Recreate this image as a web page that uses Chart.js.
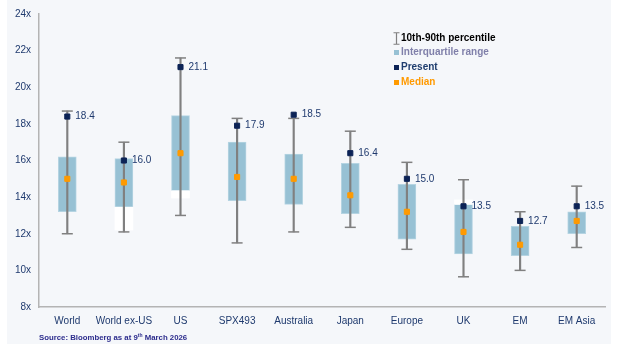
<!DOCTYPE html>
<html>
<head>
<meta charset="utf-8">
<title>Forward P/E ranges</title>
<script src="https://cdn.jsdelivr.net/npm/chart.js@4.4.0/dist/chart.umd.min.js"></script>
<style>
    html, body { margin: 0; padding: 0; background: #ffffff; }
    #wrap { position: relative; width: 626px; height: 348px; overflow: hidden; }
    #panel { position: absolute; left: 7px; top: 0; width: 604px; height: 344px; background: #f5f7fa; }
    #peChart { position: absolute; left: 0; top: 0; }
    .legend { position: absolute; left: 393px; top: 30.5px; font-family: 'Liberation Sans', Arial, sans-serif; font-weight: bold; font-size: 10px; }
    .legend .row { position: relative; height: 14.7px; line-height: 14.7px; padding-left: 8px; white-space: nowrap; }
    .legend .sw { position: absolute; left: 1px; top: 5px; width: 5px; height: 5px; }
    .legend .ibeam { position: absolute; left: 0; top: 1px; width: 7px; height: 13px; }
    .source { position: absolute; left: 39px; top: 332px; font-family: 'Liberation Sans', Arial, sans-serif; font-weight: bold; font-size: 7.8px; color: #2b2b8c; white-space: nowrap; }
    .source sup { font-size: 5px; vertical-align: 3px; }
</style>
</head>
<body>
<div id="wrap">
    <div id="panel"></div>
    <canvas id="peChart" width="626" height="348"></canvas>
    <div class="legend">
        <div class="row" style="color:#000000">
            <svg class="ibeam" viewBox="0 0 7 13"><path d="M0.5 0.75H6.5M3.5 0.75V12.25M0.5 12.25H6.5" stroke="#808080" stroke-width="1.2" fill="none"/></svg>10th-90th percentile
        </div>
        <div class="row" style="color:#8080aa"><span class="sw" style="background:#97c1d4"></span>Interquartile range</div>
        <div class="row" style="color:#1f3d6e"><span class="sw" style="background:#0c2356"></span>Present</div>
        <div class="row" style="color:#ff9a00"><span class="sw" style="background:#ff9a00"></span>Median</div>
    </div>
    <div class="source">Source: Bloomberg as at 9<sup>th</sup> March 2026</div>
</div>

<script>
// ============================================================================
// DATA
// ============================================================================

const categories = ['World', 'World ex-US', 'US', 'SPX493', 'Australia', 'Japan', 'Europe', 'UK', 'EM', 'EM Asia'];
const present = [18.4, 16.0, 21.1, 17.9, 18.5, 16.4, 15.0, 13.5, 12.7, 13.5];
const median = [15.0, 14.8, 16.4, 15.1, 15.0, 14.1, 13.2, 12.1, 11.4, 12.7];
const p10 = [12.0, 12.1, 13.0, 11.5, 12.1, 12.35, 11.15, 9.65, 10.0, 11.25];
const p90 = [18.7, 17.0, 21.6, 18.3, 18.3, 17.6, 15.9, 14.95, 13.2, 14.6];
const q1 = [13.2, 13.45, 14.35, 13.8, 13.6, 13.1, 11.7, 10.9, 10.8, 12.0];
const q3 = [16.2, 16.1, 18.45, 17.0, 16.35, 15.85, 14.7, 13.6, 12.4, 13.2];
// white gaps visible in the source image
const gapLow = [null, 12.2, 13.95, null, null, null, null, 13.6, null, null];
const gapHigh = [null, 13.45, 14.35, null, null, null, null, 13.85, null, null];
const yMin = 8;
const yMax = 24;
const yStep = 2;

const FONT = "'Liberation Sans', Arial, sans-serif";
const TEXT_BLUE = '#1f3a6e';
const GREY = '#808080';

// ============================================================================
// PLUGINS
// ============================================================================

const presentLabels = {
    id: 'presentLabels',
    afterDatasetsDraw(chart) {
        const meta = chart.getDatasetMeta(0);
        const ctx = chart.ctx;
        ctx.save();
        ctx.font = '10px ' + FONT;
        ctx.fillStyle = TEXT_BLUE;
        ctx.textAlign = 'left';
        ctx.textBaseline = 'middle';
        meta.data.forEach((pt, i) => {
            ctx.fillText(present[i].toFixed(1), pt.x + 8, pt.y);
        });
        ctx.restore();
    }
};

// ============================================================================
// CHART
// ============================================================================

function pairs(lo, hi) {
    return lo.map((v, i) => (v === null ? null : [v, hi[i]]));
}

function initChart() {
    const ctx = document.getElementById('peChart');

    new Chart(ctx, {
        data: {
            labels: categories,
            datasets: [
                {
                    type: 'line', label: 'Present', data: present, order: 0,
                    showLine: false, pointStyle: 'rect', pointRadius: 3.6,
                    pointBackgroundColor: '#0c2356', pointBorderColor: '#0c2356', pointBorderWidth: 1
                },
                {
                    type: 'line', label: 'Median', data: median, order: 1,
                    showLine: false, pointStyle: 'rect', pointRadius: 3.6,
                    pointBackgroundColor: '#ff9a00', pointBorderColor: '#ff9a00', pointBorderWidth: 1
                },
                {
                    type: 'line', label: 'p90 cap', data: p90, order: 2,
                    showLine: false, pointStyle: 'line', pointRadius: 5.5,
                    pointBorderColor: GREY, pointBorderWidth: 1.5
                },
                {
                    type: 'line', label: 'p10 cap', data: p10, order: 3,
                    showLine: false, pointStyle: 'line', pointRadius: 5.5,
                    pointBorderColor: GREY, pointBorderWidth: 1.5
                },
                {
                    type: 'bar', label: '10th-90th percentile', data: pairs(p10, p90), order: 4,
                    grouped: false, barThickness: 1.5, backgroundColor: GREY, borderWidth: 0
                },
                {
                    type: 'bar', label: 'gap', data: pairs(gapLow, gapHigh), order: 5,
                    grouped: false, barThickness: 18, backgroundColor: '#ffffff', borderWidth: 0
                },
                {
                    type: 'bar', label: 'Interquartile range', data: pairs(q1, q3), order: 6,
                    grouped: false, barThickness: 18, backgroundColor: '#97c1d4',
                    borderColor: '#b5d4e2', borderWidth: 1, borderSkipped: false
                }
            ]
        },
        options: {
            responsive: false,
            animation: false,
            devicePixelRatio: 1,
            layout: { padding: { top: 12, right: 21, left: 0, bottom: 0 } },
            plugins: {
                legend: { display: false },
                tooltip: { enabled: false }
            },
            scales: {
                x: {
                    offset: true,
                    grid: { display: false, drawTicks: false },
                    border: { display: true, color: '#b4b4b4', width: 1.5 },
                    ticks: {
                        autoSkip: false, maxRotation: 0, padding: 8,
                        color: TEXT_BLUE, font: { family: FONT, size: 10 }
                    },
                    afterFit: function(scale) { scale.height = 41; }
                },
                y: {
                    min: yMin,
                    max: yMax,
                    grid: { display: false, drawTicks: false },
                    border: { display: true, color: '#b4b4b4', width: 1.5 },
                    ticks: {
                        stepSize: yStep, padding: 8,
                        color: TEXT_BLUE, font: { family: FONT, size: 10 },
                        callback: function(value) { return value + 'x'; }
                    },
                    afterFit: function(scale) { scale.width = 39; }
                }
            }
        },
        plugins: [presentLabels]
    });
}

document.addEventListener('DOMContentLoaded', function() {
    initChart();
});
</script>
</body>
</html>
